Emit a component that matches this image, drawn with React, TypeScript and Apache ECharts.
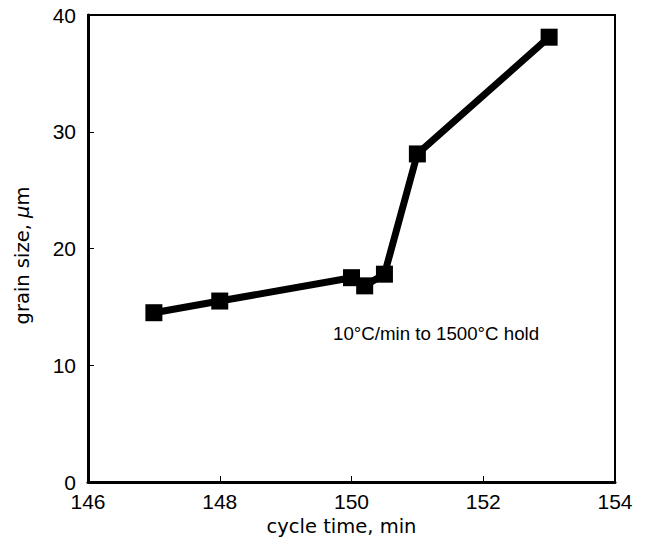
import React, { useEffect, useRef } from "react";
import * as echarts from "echarts";

const cycleTime = [147, 148, 150, 150.2, 150.5, 151, 153];
const grainSize = [14.5, 15.5, 17.5, 16.8, 17.8, 28.1, 38.1];
const xTicks = [146, 148, 150, 152, 154];
const yTicks = [0, 10, 20, 30, 40];
const annotation = "10°C/min to 1500°C hold";

export default function App() {
  const ref = useRef<HTMLDivElement>(null);
  useEffect(() => {
    if (!ref.current) return;
    const chart = echarts.init(ref.current, null, { renderer: "svg" });
    const font = "'Liberation Sans', Arial, sans-serif";
    const nameFont = "'DejaVu Sans', sans-serif";
    chart.setOption({
      animation: false,
      backgroundColor: "#fff",
      grid: {
        left: 88,
        top: 15,
        right: 31,
        bottom: 62,
        show: true,
        borderColor: "#000",
        borderWidth: 2,
      },
      xAxis: {
        type: "value",
        min: xTicks[0],
        max: xTicks[xTicks.length - 1],
        interval: 2,
        name: "cycle time, min",
        nameLocation: "middle",
        nameGap: 33,
        nameTextStyle: { color: "#000", fontSize: 19.5, fontFamily: nameFont, padding: [0, 20, 0, 0] },
        axisLine: { show: true, onZero: false, lineStyle: { color: "#000", width: 3 } },
        axisTick: { show: true, inside: true, length: 6, lineStyle: { color: "#000", width: 1 } },
        axisLabel: { color: "#000", fontSize: 21, fontFamily: font, margin: 9 },
        splitLine: { show: false },
      },
      yAxis: {
        type: "value",
        min: yTicks[0],
        max: yTicks[yTicks.length - 1],
        interval: 10,
        name: "grain size, {i|μ}m",
        nameLocation: "middle",
        nameGap: 56,
        nameRotate: 90,
        nameTextStyle: {
          color: "#000",
          fontSize: 19.5,
          fontFamily: nameFont,
          padding: [0, 14, 0, 0],
          rich: { i: { fontStyle: "italic", fontSize: 19.5, fontFamily: nameFont, color: "#000" } },
        },
        axisLine: { show: true, onZero: false, lineStyle: { color: "#000", width: 3 } },
        axisTick: { show: true, inside: true, length: 6, lineStyle: { color: "#000", width: 1 } },
        axisLabel: { color: "#000", fontSize: 21, fontFamily: font, margin: 12 },
        splitLine: { show: false },
      },
      graphic: [
        {
          type: "text",
          left: 333,
          top: 324,
          style: { text: annotation, fill: "#000", fontSize: 18.7, fontFamily: font },
        },
      ],
      series: [
        {
          type: "line",
          data: cycleTime.map((x, i) => [x, grainSize[i]]),
          symbol: "rect",
          symbolSize: 17,
          lineStyle: { color: "#000", width: 7 },
          itemStyle: { color: "#000" },
        },
      ],
    });
    return () => chart.dispose();
  }, []);
  return (
    <div
      ref={ref}
      style={{ position: "fixed", left: 0, top: 0, width: 646, height: 544 }}
    />
  );
}
